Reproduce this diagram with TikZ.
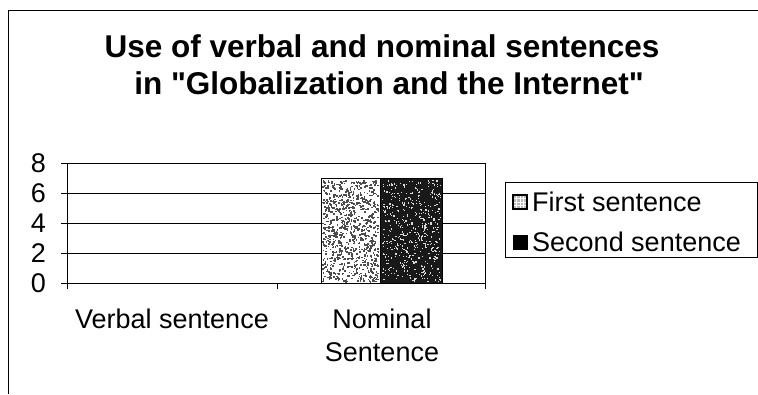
\documentclass[tikz,border=0pt]{standalone}
\usepackage{fontspec}
\setmainfont{Liberation Sans}
\begin{document}
\begin{tikzpicture}[x=1pt,y=-1pt,
  frame/.style={line width=1pt,black},
  grid/.style={line width=0.8pt,black},
  bar/.style={draw=black,line width=1pt},
  lab/.style={font=\fontsize{27}{33}\selectfont,inner sep=0pt},
  ttl/.style={font=\bfseries\fontsize{31.5}{37}\selectfont,inner sep=0pt,anchor=base}]
\useasboundingbox (0,0) rectangle (758,394);
% outer chart frame
\draw[frame] (8,394) -- (8,10) -- (758,10);
% title, two lines
\node[ttl] (title1) at (382,57) {Use of verbal and nominal sentences};
\node[ttl] (title2) at (389,94) {in \textquotedbl Globalization and the Internet\textquotedbl};
% plot area and gridlines (0 at y=283, 15 px per unit)
\draw[grid] (67,163) rectangle (485,283);
\foreach \v in {2,4,6} \draw[grid] (67,283-15*\v) -- (485,283-15*\v);
\foreach \v in {0,2,...,8} {
  \draw[grid] (61,283-15*\v) -- (67,283-15*\v);
  \node[lab,anchor=east] (y\v) at (46,283-15*\v) {\v};
}
\foreach \x in {67,277,485} \draw[grid] (\x,283) -- (\x,289);
% bars (value 7): light speckled bar and dark speckled bar
\pgfmathsetseed{11}
\fill[white] (321,178) rectangle (380,283);
\foreach \i in {1,...,900} {
  \pgfmathsetmacro\px{322+rnd*56}
  \pgfmathsetmacro\py{180+rnd*101}
  \fill[black!70] (\px,\py) rectangle ++(1.6,1.6);
}
\draw[bar] (321,178) rectangle (380,283);
\fill[black!90] (380,178) rectangle (442,283);
\foreach \i in {1,...,500} {
  \pgfmathsetmacro\px{382+rnd*58}
  \pgfmathsetmacro\py{180+rnd*101}
  \fill[white!85!black] (\px,\py) rectangle ++(1.2,1.2);
}
\draw[bar] (380,178) rectangle (442,283);
% category labels
\node[lab,anchor=base] (c1) at (172,328) {Verbal sentence};
\node[lab,anchor=base] (c2) at (382,328) {Nominal};
\node[lab,anchor=base] (c3) at (382,361) {Sentence};
% legend
\draw[line width=0.8pt] (505,182) rectangle (757,257);
\fill[gray!55] (513,195) rectangle (527,209);
\foreach \d in {3.5,7,10.5} {
  \draw[white,line width=0.5pt] (513+\d,195) -- (513+\d,209);
  \draw[white,line width=0.5pt] (513,195+\d) -- (527,195+\d);
}
\draw[black,line width=1.2pt] (513,195) rectangle (527,209);
\draw[bar,line width=0.6pt,fill=black] (513,235) rectangle (527,249);
\node[lab,anchor=base west] (l1) at (532,211) {First sentence};
\node[lab,anchor=base west] (l2) at (532,251) {Second sentence};
\end{tikzpicture}
\end{document}
